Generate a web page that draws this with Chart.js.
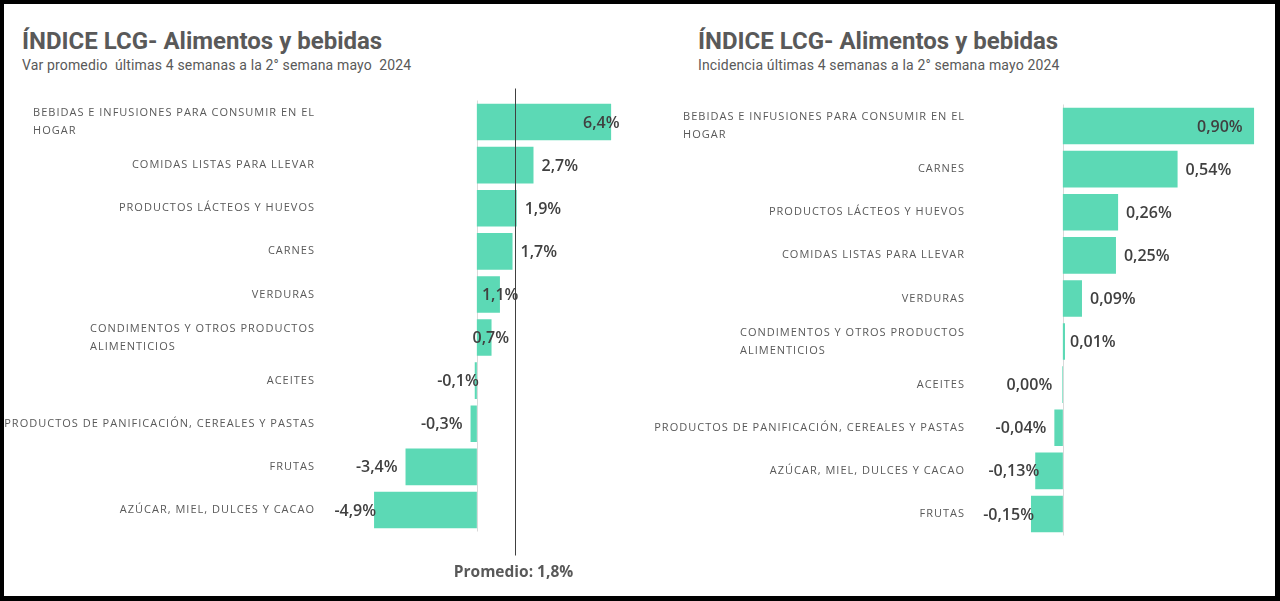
<!DOCTYPE html>
<html lang="es">
<head>
<meta charset="utf-8">
<title>ÍNDICE LCG- Alimentos y bebidas</title>
<script src="https://cdn.jsdelivr.net/npm/chart.js@4.4.1/dist/chart.umd.min.js"></script>
<style>
  html, body { margin: 0; padding: 0; background: #fff; }
  body { width: 1280px; height: 601px; position: relative; overflow: hidden; }
  .frame {
    position: absolute; inset: 0; box-sizing: border-box; z-index: 2; pointer-events: none;
    border-style: solid; border-color: #000; border-width: 4px 5px 5px 4px;
  }
  .panel { position: absolute; top: 0; width: 640px; height: 601px; }
  .panel canvas { position: absolute; inset: 0; }
  .title { position: absolute; top: 29px; font: bold 24px/24px Roboto, sans-serif; color: #595959; white-space: nowrap; }
  .subtitle { position: absolute; top: 58px; font: 14px/14px Roboto, sans-serif; letter-spacing: 0.15px; color: #595959; white-space: pre; }
</style>
</head>
<body>
<div class="frame"></div>

<div class="panel" style="left:0">
  <div class="title" style="left:22px">ÍNDICE LCG- Alimentos y bebidas</div>
  <div class="subtitle" style="left:22px">Var promedio  últimas 4 semanas a la 2° semana mayo  2024</div>
  <canvas id="varChart"></canvas>
</div>

<div class="panel" style="left:640px">
  <div class="title" style="left:58px">ÍNDICE LCG- Alimentos y bebidas</div>
  <div class="subtitle" style="left:58px">Incidencia últimas 4 semanas a la 2° semana mayo 2024</div>
  <canvas id="incChart"></canvas>
</div>

<script>
/* ---------- data ---------- */
const varCategories = [
  ["BEBIDAS E INFUSIONES PARA CONSUMIR EN EL", "HOGAR"],
  "COMIDAS LISTAS PARA LLEVAR",
  "PRODUCTOS LÁCTEOS Y HUEVOS",
  "CARNES",
  "VERDURAS",
  ["CONDIMENTOS Y OTROS PRODUCTOS", "ALIMENTICIOS"],
  "ACEITES",
  "PRODUCTOS DE PANIFICACIÓN, CEREALES Y PASTAS",
  "FRUTAS",
  "AZÚCAR, MIEL, DULCES Y CACAO",
];
const varValues = [6.4, 2.7, 1.9, 1.7, 1.1, 0.7, -0.1, -0.3, -3.4, -4.9];
const varAverage = 1.8;

const incCategories = [
  ["BEBIDAS E INFUSIONES PARA CONSUMIR EN EL", "HOGAR"],
  "CARNES",
  "PRODUCTOS LÁCTEOS Y HUEVOS",
  "COMIDAS LISTAS PARA LLEVAR",
  "VERDURAS",
  ["CONDIMENTOS Y OTROS PRODUCTOS", "ALIMENTICIOS"],
  "ACEITES",
  "PRODUCTOS DE PANIFICACIÓN, CEREALES Y PASTAS",
  "AZÚCAR, MIEL, DULCES Y CACAO",
  "FRUTAS",
];
const incValues = [0.90, 0.54, 0.26, 0.25, 0.09, 0.01, -0.003, -0.04, -0.13, -0.15];

/* label nudges in px (Excel moved a few of them by hand) */
const varLabelShift = [-36, 0, 0, 0, -26, -27, 12, 0, 0, 10];
const incLabelShift = [-65, 0, 0, 0, 0, -3, -2, 0, 12, 11];

/* ---------- styles ---------- */
const BAR_COLOR = "#5cd9b5";
const TEXT_GRAY = "#595959";
const VALUE_GRAY = "#404040";
const CATEGORY_FONT = '11px "Open Sans"';
const VALUE_FONT = '600 16px "Open Sans"';

function formatPct(value, decimals) {
  let text = Math.abs(value).toFixed(decimals);
  if (value < 0 && Number(text) !== 0) text = "-" + text;
  return text.replace(".", ",") + "%";
}

const categoryLabels = {
  id: "categoryLabels",
  afterDraw(chart, args, opts) {
    const { ctx, chartArea, scales } = chart;
    const right = chartArea.left - opts.gap;
    ctx.save();
    ctx.font = CATEGORY_FONT;
    ctx.letterSpacing = "1px";
    ctx.fillStyle = TEXT_GRAY;
    ctx.textAlign = "left";
    ctx.textBaseline = "middle";
    chart.data.labels.forEach((label, i) => {
      const lines = Array.isArray(label) ? label : [label];
      const width = Math.max(...lines.map((line) => ctx.measureText(line).width));
      const y = scales.y.getPixelForValue(i);
      lines.forEach((line, k) => {
        ctx.fillText(line, right - width, y + (k - (lines.length - 1) / 2) * 18);
      });
    });
    ctx.restore();
  },
};

const zeroLine = {
  id: "zeroLine",
  beforeDatasetsDraw(chart) {
    const { ctx, chartArea, scales } = chart;
    const x = Math.round(scales.x.getPixelForValue(0)) + 0.5;
    ctx.save();
    ctx.strokeStyle = "#d9d9d9";
    ctx.lineWidth = 1;
    ctx.beginPath();
    ctx.moveTo(x, chartArea.top);
    ctx.lineTo(x, chartArea.bottom);
    ctx.stroke();
    ctx.restore();
  },
};

const valueLabels = {
  id: "valueLabels",
  afterDatasetsDraw(chart, args, opts) {
    const { ctx } = chart;
    const meta = chart.getDatasetMeta(0);
    const values = chart.data.datasets[0].data;
    ctx.save();
    ctx.font = VALUE_FONT;
    ctx.fillStyle = VALUE_GRAY;
    ctx.textBaseline = "middle";
    meta.data.forEach((bar, i) => {
      const positive = values[i] >= 0;
      ctx.textAlign = positive ? "left" : "right";
      const x = bar.x + (positive ? 8 : -8) + (opts.shift[i] || 0);
      ctx.fillText(formatPct(values[i], opts.decimals), x, bar.y + 1);
    });
    ctx.restore();
  },
};

const averageLine = {
  id: "averageLine",
  afterDatasetsDraw(chart, args, opts) {
    if (opts.value === undefined) return;
    const { ctx, chartArea, scales } = chart;
    const x = Math.round(scales.x.getPixelForValue(opts.value)) + 0.5;
    ctx.save();
    ctx.strokeStyle = VALUE_GRAY;
    ctx.lineWidth = 1;
    ctx.beginPath();
    ctx.moveTo(x, chartArea.top - 12);
    ctx.lineTo(x, chartArea.bottom + 24);
    ctx.stroke();
    ctx.font = 'bold 15.5px "Open Sans"';
    ctx.fillStyle = TEXT_GRAY;
    ctx.textAlign = "center";
    ctx.textBaseline = "middle";
    ctx.fillText("Promedio: " + formatPct(opts.value, 1), x - 2, chartArea.bottom + 41);
    ctx.restore();
  },
};

function buildChart(canvasId, setup) {
  return new Chart(document.getElementById(canvasId), {
    type: "bar",
    data: {
      labels: setup.categories,
      datasets: [{
        data: setup.values,
        backgroundColor: BAR_COLOR,
        borderWidth: 0,
        barPercentage: 0.85,
        categoryPercentage: 1,
      }],
    },
    options: {
      indexAxis: "y",
      responsive: true,
      maintainAspectRatio: false,
      animation: false,
      layout: { padding: setup.padding },
      plugins: {
        legend: { display: false },
        tooltip: { enabled: false },
        categoryLabels: { gap: 15 },
        valueLabels: { decimals: setup.decimals, shift: setup.shift },
        averageLine: { value: setup.average },
      },
      scales: {
        x: { display: false, min: setup.min, max: setup.max },
        y: {
          ticks: { display: false },
          grid: { display: false, drawTicks: false },
          border: { display: false },
          afterFit: (scale) => { scale.width = setup.axisWidth; },
        },
      },
    },
    plugins: [zeroLine, categoryLabels, valueLabels, averageLine],
  });
}

buildChart("varChart", {
  categories: varCategories,
  values: varValues,
  average: varAverage,
  decimals: 1,
  shift: varLabelShift,
  min: -7.0,
  max: 7.3,
  axisWidth: 330,
  padding: { left: 0, right: 10, top: 100.5, bottom: 69.5 },
});

buildChart("incChart", {
  categories: incCategories,
  values: incValues,
  decimals: 2,
  shift: incLabelShift,
  min: -0.39,
  max: 0.975,
  axisWidth: 340,
  padding: { left: 0, right: 10, top: 104.5, bottom: 65.5 },
});
</script>
</body>
</html>
